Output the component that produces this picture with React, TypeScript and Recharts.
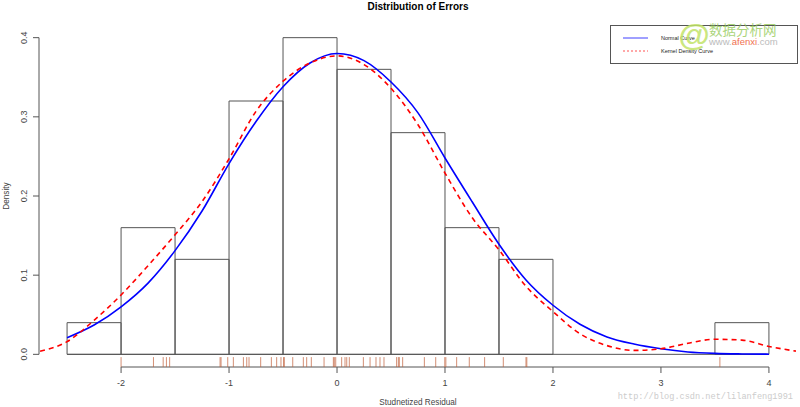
import React from 'react';
import {
    ComposedChart,
    Line,
    XAxis,
    YAxis,
    ReferenceArea,
    ReferenceLine,
} from 'recharts';

// histogram bins (width 0.5) and their density
const binStart = [-2.5, -2, -1.5, -1, -0.5, 0, 0.5, 1, 1.5, 2, 2.5, 3, 3.5];
const binEnd = [-2, -1.5, -1, -0.5, 0, 0.5, 1, 1.5, 2, 2.5, 3, 3.5, 4];
const binDensity = [0.04, 0.16, 0.12, 0.32, 0.4, 0.36, 0.28, 0.16, 0.12, 0, 0, 0, 0.04];

// normal curve
const normalX = [-2.5, -2.25, -2, -1.75, -1.5, -1.25, -1, -0.75, -0.5, -0.25, 0, 0.25, 0.5, 0.75, 1, 1.25, 1.5, 1.75, 2, 2.25, 2.5, 2.75, 3, 3.25, 3.5, 3.75, 4];
const normalY = [0.021, 0.037, 0.06, 0.09, 0.131, 0.181, 0.241, 0.294, 0.338, 0.368, 0.38, 0.371, 0.344, 0.305, 0.248, 0.193, 0.139, 0.094, 0.062, 0.038, 0.022, 0.013, 0.007, 0.003, 0.0012, 0.0005, 0.0002];

// kernel density curve
const kernelX = [-2.75, -2.5, -2.25, -2, -1.75, -1.5, -1.25, -1, -0.75, -0.5, -0.25, 0, 0.25, 0.5, 0.75, 1, 1.25, 1.5, 1.75, 2, 2.25, 2.5, 2.75, 3, 3.25, 3.5, 3.75, 4, 4.25];
const kernelY = [0.004, 0.016, 0.043, 0.075, 0.112, 0.151, 0.193, 0.247, 0.307, 0.345, 0.368, 0.377, 0.366, 0.336, 0.29, 0.229, 0.173, 0.132, 0.086, 0.054, 0.026, 0.011, 0.005, 0.007, 0.014, 0.019, 0.018, 0.01, 0.004];

// rug of residuals
const rugValues = [
    -2.0, -1.7, -1.61, -1.58, -1.55, -1.083, -1.074, -1.012, -0.96, -0.867,
    -0.836, -0.815, -0.707, -0.608, -0.559, -0.519, -0.495, -0.488, -0.41, -0.312,
    -0.281, -0.238, -0.12, -0.034, -0.025, -0.012, 0.043, 0.074, 0.09, 0.114,
    0.244, 0.306, 0.361, 0.398, 0.435, 0.552, 0.568, 0.577, 0.608, 0.809,
    0.914, 0.998, 1.008, 1.108, 1.225, 1.367, 1.54, 1.75, 1.758, 3.546,
];

const xTicks = [-2, -1, 0, 1, 2, 3, 4];
const yTicks = [0, 0.1, 0.2, 0.3, 0.4];

const normalData = normalX.map((x, i) => ({ x, y: normalY[i] }));
const kernelData = kernelX.map((x, i) => ({ x, y: kernelY[i] }));

const X_MIN = -2.76;
const X_MAX = 4.26;
const Y_MIN = -0.016;
const Y_MAX = 0.416;

const FONT = '"Liberation Sans", Arial, sans-serif';
const AXIS = '#555';

const YTick = (props: any) => {
    const { x, y, payload } = props;
    const tx = x - 4;
    return (
        <text x={tx} y={y} transform={`rotate(-90 ${tx} ${y})`} textAnchor="middle"
            fontSize={9} fill="#444" fontFamily={FONT}>
            {Number(payload.value).toFixed(1)}
        </text>
    );
};

const App: React.FC = () => {
    return (
        <div style={{ position: 'absolute', left: 0, top: 0, width: 800, height: 407, background: '#fff' }}>
            <ComposedChart width={800} height={407} margin={{ top: 25, right: 3, left: 0, bottom: 0 }}>
                <XAxis type="number" dataKey="x" domain={[X_MIN, X_MAX]} allowDataOverflow
                    ticks={xTicks} interval={0} axisLine={false} height={40}
                    tickSize={6} tickMargin={7} tickLine={{ stroke: AXIS }}
                    tick={{ fill: '#444', fontSize: 9, fontFamily: FONT }} />
                <YAxis type="number" domain={[Y_MIN, Y_MAX]} allowDataOverflow
                    ticks={yTicks} interval={0} axisLine={false} width={39}
                    tickSize={6} tickLine={{ stroke: AXIS }} tick={<YTick />} />

                {/* axis lines only over the tick range, like base R */}
                <ReferenceLine segment={[{ x: -2, y: Y_MIN }, { x: 4, y: Y_MIN }]} stroke={AXIS} ifOverflow="visible" />
                <ReferenceLine segment={[{ x: X_MIN, y: 0 }, { x: X_MIN, y: 0.4 }]} stroke={AXIS} ifOverflow="visible" />

                {binStart.map((b, i) => (
                    <ReferenceArea key={'bin' + i} x1={b} x2={binEnd[i]} y1={0} y2={binDensity[i]}
                        fill="none" stroke={AXIS} strokeWidth={1} ifOverflow="visible" />
                ))}
                <ReferenceLine segment={[{ x: -2.5, y: 0 }, { x: 4, y: 0 }]} stroke={AXIS} ifOverflow="visible" />

                {rugValues.map((v, i) => (
                    <ReferenceLine key={'rug' + i} segment={[{ x: v, y: Y_MIN }, { x: v, y: -0.0035 }]}
                        stroke="#c0603a" strokeOpacity={0.7} ifOverflow="visible" />
                ))}

                <Line data={normalData} dataKey="y" type="monotone" stroke="#0000ff" strokeWidth={1.6}
                    dot={false} isAnimationActive={false} />
                <Line data={kernelData} dataKey="y" type="monotone" stroke="#ff0000" strokeWidth={1.6}
                    strokeDasharray="5 4" dot={false} isAnimationActive={false} />
            </ComposedChart>

            <svg width={800} height={407} style={{ position: 'absolute', left: 0, top: 0, pointerEvents: 'none' }}
                fontFamily={FONT}>
                <text x={418} y={10} textAnchor="middle" fontSize={10} fontWeight="bold" fill="#000">
                    Distribution of Errors
                </text>
                <text x={418} y={404.5} textAnchor="middle" fontSize={8.2} fill="#444">Studnetized Residual</text>
                <text x={9} y={196} transform="rotate(-90 9 196)" textAnchor="middle" fontSize={8.2} fill="#444">
                    Density
                </text>

                {/* legend */}
                <rect x={610.5} y={25.5} width={187} height={38} fill="#fff" stroke={AXIS} />
                <line x1={623} x2={648} y1={38} y2={38} stroke="#4040ff" strokeWidth={1} />
                <line x1={623} x2={648} y1={51} y2={51} stroke="#ff5050" strokeWidth={1} strokeDasharray="2 2" />
                <text x={661} y={40} fontSize={5.5} fill="#222">Normal Curve</text>
                <text x={661} y={53} fontSize={5.5} fill="#222">Kernel Density Curve</text>

                {/* watermarks */}
                <text x={694} y={46} textAnchor="middle" fontSize={32} fontWeight="bold" fill="#c2e36a" opacity={0.85}>@</text>
                <text x={709} y={35} fontSize={13.5} fill="#8fc850" opacity={0.75}
                    fontFamily='"Noto Sans CJK SC", sans-serif'>数据分析网</text>
                <text x={709} y={45} fontSize={9.5} fill="#bbb">
                    www.<tspan fill="#f07050">afenxi</tspan>.com
                </text>
                <text x={793} y={399} textAnchor="end" fontSize={8.6} fill="#cccccc"
                    fontFamily='"Liberation Mono", monospace'>http://blog.csdn.net/lilanfeng1991</text>
            </svg>
        </div>
    );
};

export default App;
